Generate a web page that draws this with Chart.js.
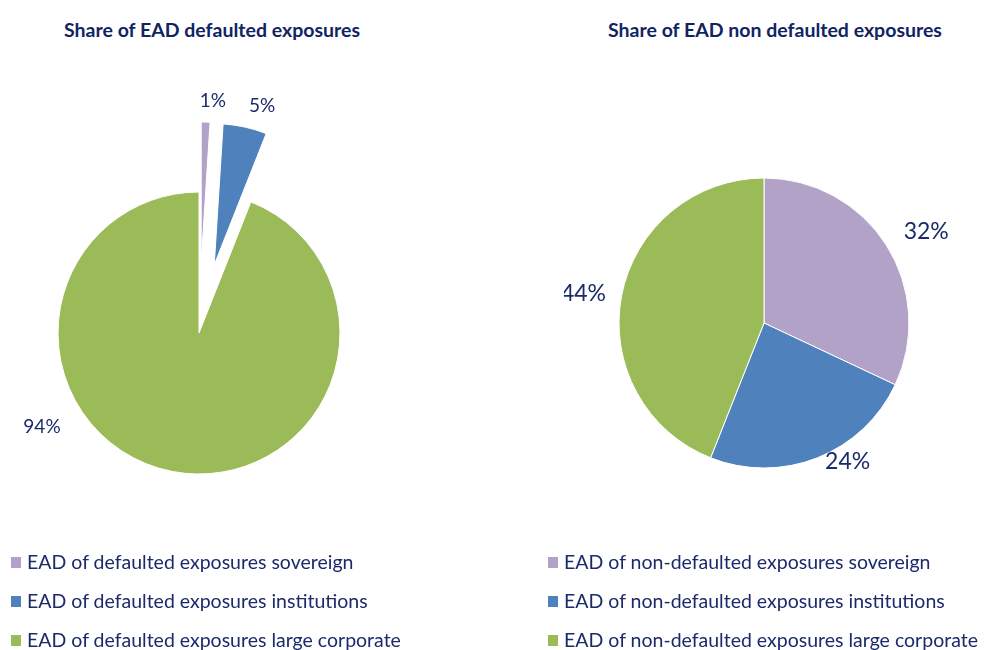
<!DOCTYPE html>
<html>
<head>
<meta charset="utf-8">
<script src="https://cdn.jsdelivr.net/npm/chart.js@4.4.1/dist/chart.umd.min.js"></script>
<style>
  html, body { margin: 0; padding: 0; background: #ffffff; }
  #wrap { position: relative; width: 984px; height: 650px; overflow: hidden; font-family: Lato, "Open Sans", sans-serif; color: #1B2A6B; }
  .title { position: absolute; top: 18px; font-weight: bold; font-size: 19.5px; line-height: 24px; white-space: nowrap; transform: translateX(-50%); color: #102463; }
  canvas { position: absolute; }
  .legend { position: absolute; top: 550px; }
  .legend .item { position: relative; height: 39px; line-height: 24px; font-size: 19.5px; white-space: nowrap; padding-left: 16px; }
  .legend .sw { position: absolute; left: 0; top: 7px; width: 10px; height: 11px; }
</style>
</head>
<body>
<div id="wrap">
  <div class="title" id="t1" style="left:212px;"></div>
  <div class="title" id="t2" style="left:775px;"></div>
  <canvas id="c1" width="398" height="546" style="left:0px; top:60px;"></canvas>
  <canvas id="c2" width="400" height="526" style="left:564px; top:60px;"></canvas>
  <div class="legend" id="l1" style="left:11px;"></div>
  <div class="legend" id="l2" style="left:548px;"></div>
</div>
<script>
// ---- data ----
const titleDefaulted = "Share of EAD defaulted exposures";
const titleNonDefaulted = "Share of EAD non defaulted exposures";
const labelsDefaulted = ["EAD of defaulted exposures sovereign", "EAD of defaulted exposures institutions", "EAD of defaulted exposures large corporate"];
const labelsNonDefaulted = ["EAD of non-defaulted exposures sovereign", "EAD of non-defaulted exposures institutions", "EAD of non-defaulted exposures large corporate"];
const valuesDefaulted = [1, 5, 94];
const valuesNonDefaulted = [32, 24, 44];
const sliceColors = ["#B3A2C7", "#4F81BD", "#9BBB59"];

const textColor = "#1B2A6B";

document.getElementById("t1").textContent = titleDefaulted;
document.getElementById("t2").textContent = titleNonDefaulted;

function buildLegend(id, labels) {
  const el = document.getElementById(id);
  labels.forEach((lab, i) => {
    const it = document.createElement("div");
    it.className = "item";
    const sw = document.createElement("span");
    sw.className = "sw";
    sw.style.background = sliceColors[i];
    it.appendChild(sw);
    it.appendChild(document.createTextNode(lab));
    el.appendChild(it);
  });
}
buildLegend("l1", labelsDefaulted);
buildLegend("l2", labelsNonDefaulted);

// explode plugin: pulls selected slices outward along their mid angle
const explode = {
  id: "explode",
  afterDatasetsUpdate(chart, args, opts) {
    const meta = chart.getDatasetMeta(0);
    const dist = opts.dist || [];
    meta.data.forEach((arc, i) => {
      const d = dist[i] || 0;
      if (!d) return;
      const mid = (arc.startAngle + arc.endAngle) / 2;
      arc.x += Math.cos(mid) * d;
      arc.y += Math.sin(mid) * d;
    });
  }
};

// label plugin: draws value labels at an angle (deg clockwise from top) and distance from the pie centre
const pctLabels = {
  id: "pctLabels",
  afterDatasetsDraw(chart, args, opts) {
    const ctx = chart.ctx;
    const ca = chart.chartArea;
    const cx = (ca.left + ca.right) / 2;
    const cy = (ca.top + ca.bottom) / 2;
    const vals = chart.data.datasets[0].data;
    ctx.save();
    ctx.fillStyle = opts.color;
    ctx.font = opts.font;
    ctx.textAlign = "center";
    ctx.textBaseline = "middle";
    vals.forEach((v, i) => {
      const p = opts.place[i];
      const a = p.angle * Math.PI / 180;
      ctx.fillText(v + "%", cx + Math.sin(a) * p.dist, cy - Math.cos(a) * p.dist);
    });
    ctx.restore();
  }
};

function makePie(id, labels, values, explodeDist, radius, font, place) {
  return new Chart(document.getElementById(id), {
    type: "pie",
    data: {
      labels: labels,
      datasets: [{
        data: values,
        backgroundColor: sliceColors,
        borderColor: "#ffffff",
        borderWidth: 1,
        hoverOffset: 0
      }]
    },
    options: {
      responsive: false,
      animation: false,
      radius: radius,
      layout: { padding: 0 },
      events: [],
      plugins: {
        legend: { display: false },
        tooltip: { enabled: false },
        title: { display: false },
        explode: { dist: explodeDist },
        pctLabels: { color: textColor, font: font, place: place }
      }
    },
    plugins: [explode, pctLabels]
  });
}

makePie("c1", labelsDefaulted, valuesDefaulted, [70, 70, 0], 141,
  "19px Lato, 'Open Sans', sans-serif",
  [{ angle: 3.4, dist: 233 }, { angle: 15.5, dist: 236 }, { angle: 239.1, dist: 183 }]);

makePie("c2", labelsNonDefaulted, valuesNonDefaulted, [0, 0, 0], 145,
  "23px Lato, 'Open Sans', sans-serif",
  [{ angle: 60.7, dist: 186 }, { angle: 148.9, dist: 162 }, { angle: 279.4, dist: 183 }]);
</script>
</body>
</html>
